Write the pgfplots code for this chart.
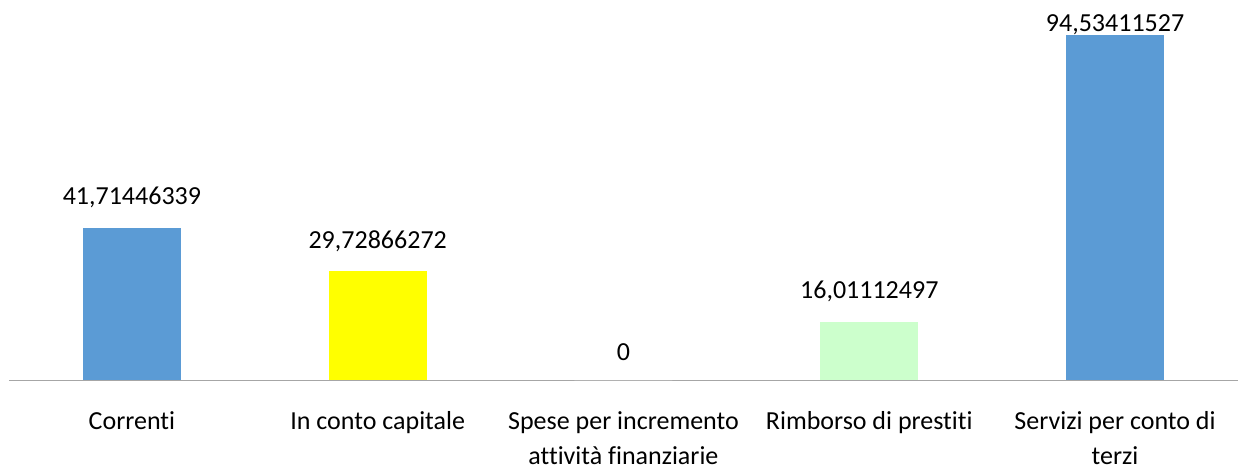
\documentclass[border=0pt]{standalone}
\usepackage{pgfplots}
\pgfplotsset{compat=1.18}
\usepackage{fontspec}
\setmainfont{Carlito}[Ligatures=NoCommon]
\definecolor{barblue}{HTML}{5B9BD5}
\definecolor{baryellow}{HTML}{FFFF00}
\definecolor{bargreen}{HTML}{CCFFCC}
\definecolor{axgray}{HTML}{A6A6A6}
\begin{document}
\begin{tikzpicture}
\path[use as bounding box] (0,0) rectangle (1238pt,472pt);
\begin{axis}[
  at={(9pt,92pt)}, anchor=south west,
  scale only axis,
  width=1229pt, height=365pt,
  xmin=-0.5, xmax=4.5, ymin=0, ymax=100,
  axis x line*=bottom, axis y line=none,
  x axis line style={axgray, line width=1pt, -},
  xtick={0,1,2,3,4},
  xticklabels={Correnti, In conto capitale, {Spese per incremento\\attività finanziarie}, Rimborso di prestiti, {Servizi per conto di\\terzi}},
  xtick style={draw=none},
  xticklabel style={font=\fontsize{26}{35}\selectfont, align=center, anchor=north, yshift=-24pt},
  ybar, bar width=98pt, bar shift=0pt,
  clip=false,
  point meta=explicit symbolic,
  nodes near coords,
  nodes near coords style={font=\fontsize{26}{30}\selectfont, anchor=south, text=black},
]
\addplot[fill=barblue, draw=none, nodes near coords style={yshift=16pt}] coordinates {(0,41.71446339) [41,71446339]};
\addplot[fill=baryellow, draw=none, nodes near coords style={yshift=16pt}] coordinates {(1,29.72866272) [29,72866272]};
\addplot[fill=white, draw=none, nodes near coords style={yshift=16pt}] coordinates {(2,0) [0]};
\addplot[fill=bargreen, draw=none, nodes near coords style={yshift=16pt}] coordinates {(3,16.01112497) [16,01112497]};
\addplot[fill=barblue, draw=none, nodes near coords style={yshift=-3.5pt}] coordinates {(4,94.53411527) [94,53411527]};
\end{axis}
\end{tikzpicture}
\end{document}
